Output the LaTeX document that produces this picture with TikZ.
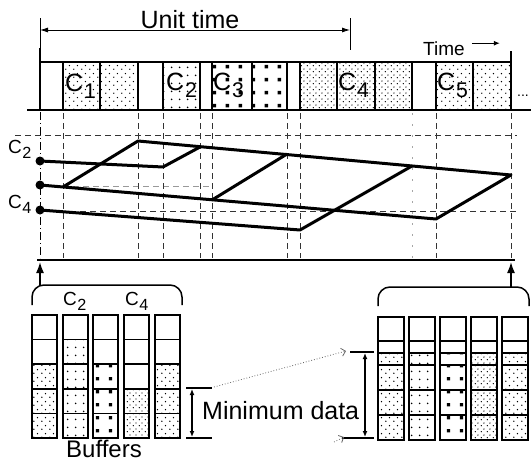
\documentclass[tikz,border=0pt]{standalone}
\usepackage{fontspec}
\setmainfont{Liberation Sans}
\usepackage{tikz}
\usetikzlibrary{arrows.meta,patterns.meta}

% fill patterns of the channels
\tikzdeclarepattern{name=finedots, type=uncolored,
  bounding box={(0pt,0pt) and (8pt,8pt)}, tile size={(8pt,8pt)},
  code={\fill (2pt,2pt) circle (0.8pt); \fill (6pt,6pt) circle (0.8pt);}}
\tikzdeclarepattern{name=sparsedots, type=uncolored,
  bounding box={(0pt,0pt) and (8pt,8pt)}, tile size={(8pt,8pt)},
  code={\fill (4pt,4pt) circle (1pt);}}
\tikzdeclarepattern{name=bigdots, type=uncolored,
  bounding box={(0pt,0pt) and (13pt,13pt)}, tile size={(13pt,13pt)},
  code={\fill (5pt,5pt) rectangle (8.5pt,8.5pt);}}
\tikzdeclarepattern{name=densedots, type=uncolored,
  bounding box={(0pt,0pt) and (6pt,6pt)}, tile size={(6pt,6pt)},
  code={\fill (1.5pt,1.5pt) circle (0.75pt); \fill (4.5pt,4.5pt) circle (0.75pt);}}

\newcommand{\chn}[1]{C\kern0.03em\raisebox{-0.28em}{\scalebox{0.85}{#1}}}

\tikzset{
  barline/.style={line width=1.8pt},
  trace/.style={line width=3pt, line join=round},
  gridline/.style={dash pattern=on 6pt off 4pt, line width=0.7pt, draw=black!80},
  cellbox/.style={draw, line width=1.5pt},
  chanlabel/.style={font=\fontsize{25}{28}\selectfont, inner sep=0pt, anchor=base west},
  smalllabel/.style={font=\fontsize{19}{22}\selectfont, inner sep=0pt, anchor=base west},
  textlabel/.style={font=\fontsize{25}{30}\selectfont, inner sep=0pt},
  chandot/.style={circle, fill, inner sep=0pt, minimum size=9pt},
  upmark/.style={-{Latex[length=11pt,width=8pt]}, line width=1.6pt},
  spanarrow/.style={{Latex[length=8pt,width=5pt]}-{Latex[length=8pt,width=5pt]}, line width=0.8pt},
  mindata/.style={{Latex[length=6pt,width=5pt]}-{Latex[length=6pt,width=5pt]}, line width=1.5pt},
  pointer/.style={dotted, line width=0.8pt, draw=black!60, -{Straight Barb[length=4pt]}}
}

\begin{document}
\begin{tikzpicture}[x=1pt, y=-1pt]
  \useasboundingbox (0,0) rectangle (531,463);

  % unit time
  \draw[line width=0.7pt] (40,18) -- (40,48);
  \draw[line width=0.7pt] (350,18) -- (350,50);
  \draw[spanarrow] (40,30) -- (350,30);
  \node[textlabel, anchor=base] (unit) at (190,28) {Unit time};
  \node[smalllabel] (time) at (423,55) {Time};
  \draw[-{Latex[length=6pt,width=5pt]}, line width=1.3pt] (time.east) ++(7,-5) -- ++(28,0);

  % grid
  \draw[gridline] (15,135) -- (517,135);
  \draw[gridline] (40,211) -- (517,211);
  \draw[gridline, draw=black!40] (63,186) -- (212,186);
  \draw[dash pattern=on 8pt off 3pt on 1pt off 3pt, line width=0.7pt] (40,112) -- (40,258);
  \foreach \x in {63,138,163,200,212,287,300,436,511}
    \draw[gridline] (\x,113) -- (\x,258);
  \draw[gridline, draw=black!35, dash pattern=on 2pt off 9pt] (412,113) -- (412,258);

  % time slots
  \foreach \xa/\xb/\pat in {63/100/finedots, 100/138/finedots, 163/200/sparsedots,
      212/252/bigdots, 252/287/bigdots, 300/337/densedots, 337/375/densedots,
      375/412/densedots, 436/473/finedots, 473/511/finedots}
    \fill[pattern=\pat] (\xa,62) rectangle (\xb,110);
  \foreach \xa/\xb in {40/63, 63/100, 100/138, 138/163, 163/200, 200/212, 212/252,
      252/287, 287/300, 300/337, 337/375, 375/412, 412/436, 436/473, 473/511}
    \draw[barline] (\xa,62) rectangle (\xb,110);
  \draw[line width=2.6pt] (27,110) -- (531,110);
  \draw[line width=2.6pt] (40,48) -- (40,110);
  \draw[line width=2.6pt] (511,51) -- (511,110);
  \node[inner sep=0pt, font=\fontsize{14}{14}\selectfont] (more) at (523,96) {...};

  \node[chanlabel] (c1) at (65,91) {\chn{1}};
  \node[chanlabel] (c2) at (166,90) {\chn{2}};
  \node[chanlabel] (c3) at (213,90) {\chn{3}};
  \node[chanlabel] (c4) at (338,90) {\chn{4}};
  \node[chanlabel] (c5) at (437,90) {\chn{5}};

  % buffer traces
  \node[chandot] (d2) at (40,161) {};
  \node[chandot] (d3) at (40,185) {};
  \node[chandot] (d4) at (40,210) {};
  \node[smalllabel] (l2) at (8,153) {\chn{2}};
  \node[smalllabel] (l4) at (8,208) {\chn{4}};
  \draw[trace] (d2.center) -- (163,167) -- (200,147);
  \draw[trace] (d3.center) -- (436,219) -- (511,175) -- (138,141) -- (63,187);
  \draw[trace] (212,200) -- (287,154);
  \draw[trace] (d4.center) -- (300,230) -- (412,166);

  % marks on the time axis
  \draw[line width=2.2pt] (37,260) -- (515,260);
  \draw[line width=1.5pt, rounded corners=12pt] (32,305) -- (32,285) -- (182,285) -- (182,305);
  \draw[line width=1.5pt, rounded corners=12pt] (378,306) -- (378,287) -- (529,287) -- (529,306);
  \draw[upmark] (40,285) -- (40,262);
  \draw[upmark] (511,287) -- (511,262);
  \node[smalllabel] (b2) at (63,305) {\chn{2}};
  \node[smalllabel] (b4) at (125,305) {\chn{4}};

  % buffers before
  \foreach \x/\pat/\n in {32/finedots/3, 62.5/sparsedots/4, 93/bigdots/3,
      124/densedots/2, 155/finedots/3} {
    \fill[pattern=\pat] (\x,438-\n*24.6) rectangle (\x+25,438);
    \foreach \r in {0,...,4}
      \draw[cellbox] (\x,315+\r*24.6) rectangle ++(25,24.6);
    \draw[line width=2pt] (\x,315) rectangle (\x+25,438);
  }
  \node[textlabel, anchor=base west, font=\fontsize{24}{28}\selectfont] (buf) at (66,457) {Buffers};

  % buffers after
  \foreach \x/\pat in {378/finedots, 409/sparsedots, 440/bigdots, 471/densedots, 502/finedots} {
    \fill[pattern=\pat] (\x,353) rectangle (\x+26,440);
    \foreach \y in {341,353,365,390,415}
      \draw[line width=1.5pt] (\x,\y) -- (\x+26,\y);
    \draw[line width=2pt] (\x,317) rectangle (\x+26,440);
  }

  % minimum data
  \draw[line width=1.1pt] (186,388) -- (212,388);
  \draw[line width=1.1pt] (186,438) -- (212,438);
  \draw[mindata] (192,389) -- (192,437);
  \draw[line width=1.1pt] (350,352) -- (374,352);
  \draw[line width=1.1pt] (342,438) -- (374,438);
  \draw[mindata] (365,353) -- (365,437);
  \draw[pointer] (214,387) -- (346,351);
  \draw[pointer] (334,442) -- (344,437);
  \node[textlabel, anchor=base west] (mind) at (202,419) {Minimum data};
\end{tikzpicture}
\end{document}
